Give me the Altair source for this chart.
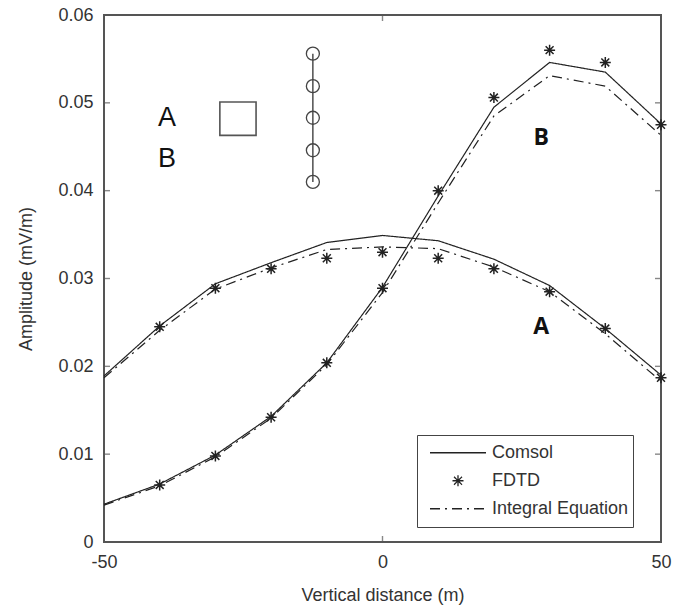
import altair as alt
import pandas as pd

# ---------------- data ----------------
x_vals = [-50, -40, -30, -20, -10, 0, 10, 20, 30, 40, 50]
x_fdtd = [-40, -30, -20, -10, 0, 10, 20, 30, 40, 50]

a_comsol = [0.0189, 0.0246, 0.0294, 0.0318, 0.0341, 0.0349, 0.0343, 0.0322, 0.0292, 0.0243, 0.0190]
a_integral = [0.0187, 0.0241, 0.0288, 0.0312, 0.0333, 0.0336, 0.0334, 0.0313, 0.0285, 0.0237, 0.0183]
a_fdtd = [0.0245, 0.0289, 0.0311, 0.0323, 0.0330, 0.0323, 0.0311, 0.0285, 0.0243, 0.0187]

b_comsol = [0.0043, 0.0066, 0.0099, 0.0143, 0.0204, 0.0290, 0.0394, 0.0495, 0.0546, 0.0535, 0.0476]
b_integral = [0.0042, 0.0064, 0.0097, 0.0141, 0.0202, 0.0284, 0.0386, 0.0485, 0.0531, 0.0519, 0.0463]
b_fdtd = [0.0065, 0.0098, 0.0142, 0.0204, 0.0289, 0.0400, 0.0506, 0.0560, 0.0546, 0.0475]

methods = ["Comsol", "FDTD", "Integral Equation"]

# curve labels
curve_labels = ["A", "B"]
curve_label_x = [28.5, 28.5]
curve_label_y = [0.0245, 0.0460]

# inset sketch (source square + receiver array)
inset_text = ["A", "B"]
inset_text_x = [-38.7, -38.7]
inset_text_y = [0.0483, 0.0436]
inset_square_x = [-29.2, -22.7]
inset_square_y = [0.0463, 0.0501]
inset_rx_x = -12.5
inset_rx_y = [0.0556, 0.0519, 0.0483, 0.0446, 0.0410]

x_ticks = [-50, 0, 50]
y_ticks = [0, 0.01, 0.02, 0.03, 0.04, 0.05, 0.06]

# ---------------- tables ----------------
rows = []
for curve, com, ie in (("A", a_comsol, a_integral), ("B", b_comsol, b_integral)):
    for xv, v in zip(x_vals, com):
        rows.append({"x": xv, "y": v, "method": "Comsol", "curve": curve})
    for xv, v in zip(x_vals, ie):
        rows.append({"x": xv, "y": v, "method": "Integral Equation", "curve": curve})
lines_df = pd.DataFrame(rows)

prow = []
for curve, fd in (("A", a_fdtd), ("B", b_fdtd)):
    for xv, v in zip(x_fdtd, fd):
        prow.append({"x": xv, "y": v, "method": "FDTD", "curve": curve})
pts_df = pd.DataFrame(prow)

STAR = "M0,-1L0,1M-1,0L1,0M-0.72,-0.72L0.72,0.72M-0.72,0.72L0.72,-0.72"
INK = "#222222"
FONT = "Liberation Sans"

xscale = alt.Scale(domain=[-50, 50], nice=False, zero=False)
yscale = alt.Scale(domain=[0, 0.06], nice=False)

xenc = alt.X("x:Q", scale=xscale,
             axis=alt.Axis(title="Vertical distance (m)", values=x_ticks,
                           labelExpr="datum.value + ''", labelPadding=11,
                           labelFlush=False, titlePadding=15))
yenc = alt.Y("y:Q", scale=yscale,
             axis=alt.Axis(title="Amplitude (mV/m)", values=y_ticks,
                           labelExpr="datum.value == 0 ? '0' : format(datum.value, '.2f')",
                           labelFlush=False, labelPadding=11, titlePadding=22))

legend = alt.Legend(title=None, orient="none", legendX=313, legendY=420,
                    padding=4, symbolOffset=8, clipHeight=27.5, rowPadding=0,
                    labelFont=FONT, labelFontSize=18, labelColor="#333333",
                    labelOffset=5, strokeColor="#444444",
                    symbolStrokeColor=INK, symbolStrokeWidth=1.3)

dash_scale = alt.Scale(domain=methods, range=[[1, 0], [1, 0], [10, 5, 2, 5]])
shape_scale = alt.Scale(domain=methods, range=["stroke", STAR, "stroke"])
size_scale = alt.Scale(type="ordinal", domain=methods, range=[3136, 121, 3136])

lines = alt.Chart(lines_df).mark_line(color=INK, strokeWidth=1.2).encode(
    x=xenc, y=yenc,
    strokeDash=alt.StrokeDash("method:N", scale=dash_scale, legend=legend),
    detail="curve:N",
)

points = alt.Chart(pts_df).mark_point(filled=False, color=INK, strokeWidth=1.5, opacity=1).encode(
    x="x:Q", y="y:Q",
    shape=alt.Shape("method:N", scale=shape_scale, legend=legend),
    size=alt.Size("method:N", scale=size_scale, legend=legend),
)

labels_df = pd.DataFrame({"t": curve_labels, "x": curve_label_x, "y": curve_label_y})
curve_text = alt.Chart(labels_df).mark_text(
    font="Open Sans", fontSize=23, fontWeight="bold", color="#111111"
).encode(x="x:Q", y="y:Q", text="t:N")

inset_txt_df = pd.DataFrame({"t": inset_text, "x": inset_text_x, "y": inset_text_y})
inset_txt = alt.Chart(inset_txt_df).mark_text(
    font=FONT, fontSize=27, color="#111111"
).encode(x="x:Q", y="y:Q", text="t:N")

sq_df = pd.DataFrame({"x": [inset_square_x[0]], "x2": [inset_square_x[1]],
                      "y": [inset_square_y[0]], "y2": [inset_square_y[1]]})
square = alt.Chart(sq_df).mark_rect(fill=None, fillOpacity=0, stroke="#555555", strokeWidth=1.6).encode(
    x="x:Q", x2="x2:Q", y="y:Q", y2="y2:Q")

rx_line_df = pd.DataFrame({"x": [inset_rx_x], "y": [min(inset_rx_y)], "y2": [max(inset_rx_y)]})
rx_line = alt.Chart(rx_line_df).mark_rule(color="#333333", strokeWidth=1.3).encode(
    x="x:Q", y="y:Q", y2="y2:Q")

rx_df = pd.DataFrame({"x": [inset_rx_x] * len(inset_rx_y), "y": inset_rx_y})
rx_pts = alt.Chart(rx_df).mark_point(shape="circle", filled=False, size=169,
                                     color="#444444", strokeWidth=1.3, opacity=1).encode(
    x="x:Q", y="y:Q")

# inward ticks (MATLAB style)
xt_df = pd.DataFrame({"x": x_ticks})
yt_df = pd.DataFrame({"y": y_ticks})
tick_color = "#555555"
xt_bottom = alt.Chart(xt_df).mark_tick(orient="vertical", size=12, thickness=1.4,
                                       color=tick_color, clip=True).encode(
    x="x:Q", y=alt.datum(0))
xt_top = alt.Chart(xt_df).mark_tick(orient="vertical", size=12, thickness=1.4,
                                    color=tick_color, clip=True).encode(
    x="x:Q", y=alt.datum(0.06))
yt_left = alt.Chart(yt_df).mark_tick(orient="horizontal", size=12, thickness=1.4,
                                     color=tick_color, clip=True).encode(
    y="y:Q", x=alt.datum(-50))
yt_right = alt.Chart(yt_df).mark_tick(orient="horizontal", size=12, thickness=1.4,
                                      color=tick_color, clip=True).encode(
    y="y:Q", x=alt.datum(50))

chart = alt.layer(
    xt_bottom, xt_top, yt_left, yt_right,
    lines, points, curve_text, inset_txt, square, rx_line, rx_pts,
).properties(
    width=557, height=527,
    autosize=alt.AutoSizeParams(type="none"),
    padding={"left": 104, "top": 15, "right": 22, "bottom": 66},
    background="white",
).configure_view(
    stroke="#555555", strokeWidth=2
).configure_axis(
    domain=False, ticks=False, grid=False,
    labelFont=FONT, labelFontSize=18, labelColor="#333333",
    titleFont=FONT, titleFontSize=18, titleFontWeight="normal", titleColor="#333333",
)

chart.save("out.html", embed_options={"renderer": "svg", "actions": False})
